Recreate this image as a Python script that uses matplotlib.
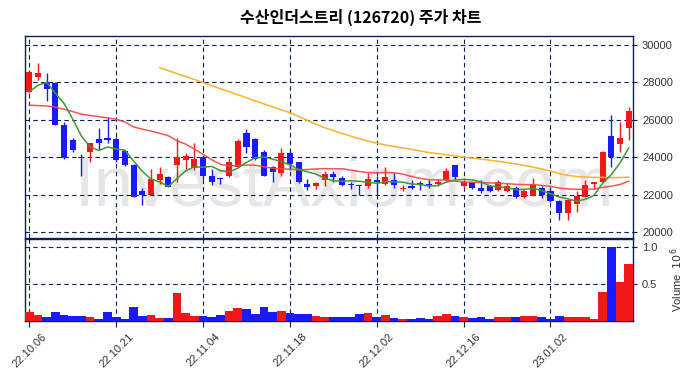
import numpy as np
import pandas as pd
import matplotlib
matplotlib.use("Agg")
import matplotlib.pyplot as plt

plt.rcParams['font.family'] = ['Liberation Sans', 'Noto Sans CJK KR', 'DejaVu Sans']

# trading days shown on the chart
dates = ["22.10.06", "22.10.07", "22.10.11", "22.10.12", "22.10.13", "22.10.14",
         "22.10.17", "22.10.18", "22.10.19", "22.10.20", "22.10.21",
         "22.10.24", "22.10.25", "22.10.26", "22.10.27", "22.10.28", "22.10.31",
         "22.11.01", "22.11.02", "22.11.03", "22.11.04",
         "22.11.07", "22.11.08", "22.11.09", "22.11.10", "22.11.11",
         "22.11.14", "22.11.15", "22.11.16", "22.11.17", "22.11.18",
         "22.11.21", "22.11.22", "22.11.23", "22.11.24", "22.11.25",
         "22.11.28", "22.11.29", "22.11.30", "22.12.01", "22.12.02",
         "22.12.05", "22.12.06", "22.12.07", "22.12.08", "22.12.09",
         "22.12.12", "22.12.13", "22.12.14", "22.12.15", "22.12.16",
         "22.12.19", "22.12.20", "22.12.21", "22.12.22", "22.12.23",
         "22.12.26", "22.12.27", "22.12.28", "22.12.29",
         "23.01.02", "23.01.03", "23.01.04", "23.01.05", "23.01.06",
         "23.01.09", "23.01.10", "23.01.11", "23.01.12", "23.01.13"]

opens = [27470, 28270, 28000, 27980, 25720, 24910, 24000, 24300, 24960, 25030,
         24960, 24340, 23590, 22200, 21990, 22760, 22930, 23560, 23840, 23400,
         24000, 22970, 22900, 22970, 23500, 25320, 24980, 24280, 23450, 23180,
         24210, 23730, 22580, 22440, 22760, 23110, 22900, 22560, 22520, 22470,
         22760, 22580, 22790, 22290, 22440, 22610, 22560, 22580, 22760, 23570,
         22440, 22650, 22360, 22470, 22260, 22200, 22330, 21870, 21940, 22380,
         22200, 21670, 21010, 21490, 21870, 22580, 22680, 25140, 24680, 25550]
highs = [28570, 29010, 28480, 28000, 25900, 25010, 24160, 24760, 25580, 26170,
         25100, 24390, 23630, 22350, 23360, 23500, 22970, 25050, 24210, 24750,
         24120, 23360, 22930, 23950, 24960, 25510, 25010, 24390, 23540, 24480,
         24390, 23770, 22860, 22650, 23240, 23270, 22970, 22680, 22540, 23150,
         22970, 23450, 23150, 22520, 22760, 22720, 22760, 22830, 23410, 23590,
         22880, 22700, 22760, 22500, 22790, 22610, 22440, 22290, 22880, 22470,
         22380, 21720, 21760, 22170, 22760, 22700, 24340, 26260, 25900, 26670]
lows = [27450, 28120, 27020, 25700, 23930, 24270, 23000, 23770, 24360, 24780,
        23770, 23550, 21860, 21440, 21990, 22580, 22400, 22650, 23360, 23320,
        22830, 22520, 22560, 22930, 23470, 24250, 23860, 23000, 22700, 22970,
        23320, 22610, 22260, 22310, 22470, 22700, 22470, 22290, 21990, 22380,
        21990, 22510, 22350, 22200, 22290, 22260, 22360, 22440, 22700, 22830,
        22380, 22290, 22080, 22130, 22170, 22120, 21810, 21810, 21900, 21810,
        21600, 20620, 20660, 21050, 21870, 22290, 22680, 23470, 24280, 24920]
closes = [28570, 28480, 27630, 25710, 23980, 24360, 23950, 24750, 24750, 24920,
          23860, 23600, 21870, 21990, 22830, 23090, 22400, 24000, 24050, 23890,
          22970, 22650, 22830, 23770, 24840, 24530, 23890, 23020, 23200, 24210,
          23640, 22650, 22400, 22600, 23110, 22930, 22510, 22540, 22480, 22830,
          22650, 22930, 22540, 22380, 22330, 22510, 22520, 22680, 23270, 22930,
          22680, 22380, 22170, 22170, 22670, 22470, 21870, 22200, 22520, 21990,
          21640, 21010, 21690, 21900, 22510, 22670, 24280, 24000, 25010, 26470]
# volume in millions
volumes = [0.126, 0.085, 0.054, 0.126, 0.085, 0.072, 0.072, 0.058, 0.031, 0.126,
           0.058, 0.031, 0.193, 0.072, 0.085, 0.045, 0.045, 0.383, 0.112, 0.072,
           0.072, 0.058, 0.085, 0.140, 0.180, 0.167, 0.099, 0.193, 0.126, 0.140,
           0.112, 0.099, 0.099, 0.072, 0.058, 0.058, 0.058, 0.058, 0.099, 0.112,
           0.058, 0.085, 0.045, 0.031, 0.031, 0.045, 0.031, 0.072, 0.099, 0.072,
           0.058, 0.045, 0.058, 0.031, 0.058, 0.058, 0.058, 0.072, 0.072, 0.058,
           0.031, 0.072, 0.058, 0.058, 0.058, 0.031, 0.387, 1.000, 0.531, 0.765]

# moving average values before enough history is on screen
ma5_head = [27500, 27850, 28000, 27420]
ma20_head = [26780, 26760, 26740, 26680, 26560, 26440, 26300, 26230, 26170, 26100,
             26030, 25880, 25620, 25500, 25400, 25280, 25150, 24880, 24700]
ma60_start = 15
ma60_head = [28790, 28630, 28470, 28310, 28150, 27990, 27830, 27660, 27500, 27340,
             27180, 27010, 26850, 26690, 26530, 26380, 26180, 25970, 25760, 25580,
             25420, 25270, 25130, 24990, 24860, 24750, 24650, 24570, 24490, 24420,
             24330, 24250, 24190, 24130, 24070, 24000, 23950, 23900, 23840, 23780,
             23710, 23640, 23560, 23470]

n = len(dates)
x = np.arange(n)
o = np.array(opens); h = np.array(highs); l = np.array(lows); c = np.array(closes)
up = c >= o
cols = np.where(up, '#f01818', '#1a1aff')

cs = pd.Series(closes, dtype=float)
ma5 = cs.rolling(5).mean().values
ma5[:len(ma5_head)] = ma5_head
ma20 = cs.rolling(20).mean().values
ma20[:len(ma20_head)] = ma20_head
ma60 = cs.rolling(60).mean().values
ma60[ma60_start:ma60_start + len(ma60_head)] = ma60_head

fig = plt.figure(figsize=(6.9, 3.78), dpi=100)
ax = fig.add_axes([25/690, 1-238/378, 608/690, 202/378])
axv = fig.add_axes([25/690, 1-321/378, 608/690, 82/378], sharex=ax)

navy = '#0b1f5c'
grid_kw = dict(color=navy, linestyle=(0, (4, 3)), linewidth=0.8)

ax.text(0.525, 0.25, 'InvestAxiom.com', transform=ax.transAxes, ha='center', va='center',
        fontsize=51, color='#e6e6e6', zorder=0, family='Liberation Sans')

# candles
ax.vlines(x, l, h, color=cols, linewidth=1.0, zorder=3)
body = np.abs(c - o)
body = np.maximum(body, 40)
ax.bar(x, body, bottom=np.minimum(o, c), width=0.7, color=cols, zorder=3)

ax.plot(x, ma60, color='#ffb02e', linewidth=1.1, zorder=4)
ax.plot(x, ma20, color='#f04545', linewidth=1.1, alpha=0.9, zorder=4)
ax.plot(x, ma5, color='#3a9a35', linewidth=1.1, zorder=4)

ax.set_ylim(19680, 30480)
ax.set_yticks(range(20000, 30001, 2000))
ax.yaxis.tick_right()
ax.set_xlim(-0.5, n - 0.5)
ticks = list(range(0, n, 10))
ax.set_xticks(ticks)
ax.tick_params(axis='x', length=0, labelbottom=False)
ax.tick_params(axis='y', labelsize=8, labelcolor='#333333', length=3, color=navy)
ax.grid(True, **grid_kw)

axv.bar(x, volumes, width=1.0, color=cols, zorder=3)
axv.set_ylim(0, 1.11)
axv.set_yticks([0.5, 1.0])
axv.yaxis.tick_right()
axv.yaxis.set_label_position('right')
axv.set_ylabel('Volume  $10^{6}$', fontsize=8, color='#333333', labelpad=8)
axv.set_xticks(ticks)
axv.set_xticklabels([dates[i] for i in ticks], rotation=45, ha='center',
                    fontsize=8, color='#333333')
axv.tick_params(axis='y', labelsize=8, labelcolor='#333333', length=3, color=navy)
axv.tick_params(axis='x', length=4, color='#222222')
axv.grid(True, **grid_kw)

for a in (ax, axv):
    a.set_axisbelow(True)
    for s in a.spines.values():
        s.set_color(navy)
        s.set_linewidth(1.0)

fig.text(361/690, 1-17/378, '수산인더스트리 (126720) 주가 차트', ha='center', va='center',
         fontsize=11.5, fontweight='bold', family=['Noto Sans CJK KR', 'DejaVu Sans'])

fig.savefig('out.png', dpi=100)
